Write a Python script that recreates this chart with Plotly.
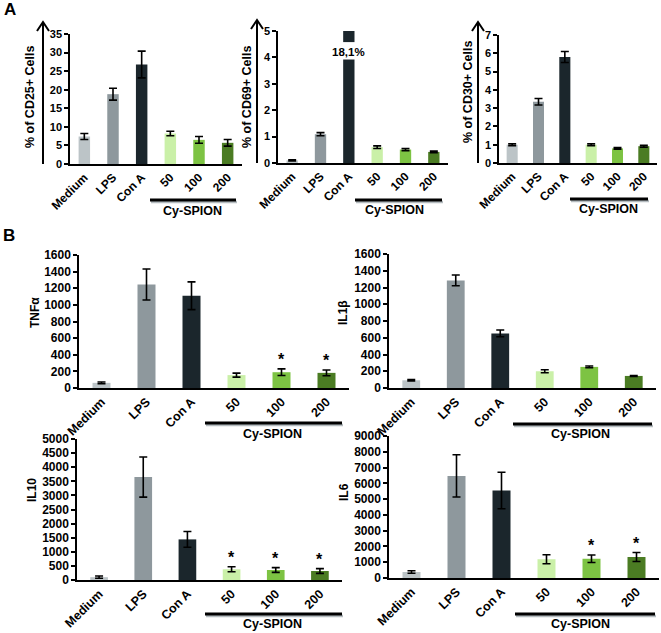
import plotly.graph_objects as go

W, H = 661, 633

categories = ["Medium", "LPS", "Con A", "50", "100", "200"]
colors = ["#bcc4c7", "#8e989d", "#1b262c", "#caf0a8", "#7dc343", "#4b7c23"]

cd25 = [7.4, 18.8, 26.8, 8.2, 6.5, 5.7]
cd25_err = [0.8, 1.6, 3.6, 0.6, 0.9, 0.9]
cd69 = [0.1, 1.09, 18.1, 0.6, 0.51, 0.42]
cd69_err = [0.02, 0.06, 0, 0.05, 0.04, 0.03]
cd30 = [1.0, 3.35, 5.8, 1.0, 0.8, 0.92]
cd30_err = [0.05, 0.18, 0.3, 0.05, 0.04, 0.05]
tnf = [62, 1245, 1110, 155, 190, 182]
tnf_err = [10, 187, 167, 24, 40, 35]
il1b = [92, 1285, 652, 200, 252, 144]
il1b_err = [8, 64, 40, 18, 10, 6]
il10 = [100, 3650, 1440, 380, 355, 320]
il10_err = [40, 710, 280, 90, 85, 85]
il6 = [380, 6470, 5545, 1190, 1220, 1330]
il6_err = [80, 1340, 1160, 285, 240, 285]
tnf_sig = ["", "", "", "", "*", "*"]
il1b_sig = ["", "", "", "", "", ""]
il10_sig = ["", "", "", "*", "*", "*"]
il6_sig = ["", "", "", "", "*", "*"]

FONT = "Liberation Sans"


def xd(a, b):
    return [a / W, b / W]


def yd(bottom, top):
    return [1 - bottom / H, 1 - top / H]


def px(x):
    return x / W


def py(y):
    return 1 - y / H


panels = [
    dict(v=cd25, e=cd25_err, s=None, ymax=35, dt=5, xd=(70, 242), yd=(164, 34),
         title="% of CD25+ Cells", tpos=(30, 97), ts=11, xs=12, bw=0.4),
    dict(v=cd69, e=cd69_err, s=None, ymax=5, dt=1, xd=(278, 448), yd=(163, 31),
         title="% of CD69+ Cells", tpos=(247, 97), ts=11, xs=12, bw=0.4),
    dict(v=cd30, e=cd30_err, s=None, ymax=7, dt=1, xd=(499, 657), yd=(163, 35),
         title="% of CD30+ Cells", tpos=(468, 92), ts=11, xs=12, bw=0.42),
    dict(v=tnf, e=tnf_err, s=tnf_sig, ymax=1600, dt=200, xd=(79, 349), yd=(388, 255),
         title="TNFα", tpos=(35, 313), ts=12, xs=12.5, bw=0.4),
    dict(v=il1b, e=il1b_err, s=il1b_sig, ymax=1600, dt=200, xd=(389, 656), yd=(388, 254),
         title="IL1β", tpos=(343, 313), ts=12, xs=12.5, bw=0.4),
    dict(v=il10, e=il10_err, s=il10_sig, ymax=5000, dt=500, xd=(77, 342), yd=(580, 439),
         title="IL10", tpos=(32, 490), ts=12, xs=12.5, bw=0.4),
    dict(v=il6, e=il6_err, s=il6_sig, ymax=9000, dt=1000, xd=(389, 659), yd=(578, 436),
         title="IL6", tpos=(344, 492), ts=12, xs=12.5, bw=0.4),
]

fig = go.Figure()
annotations = []
shapes = []
layout = {}

for i, p in enumerate(panels, start=1):
    xa = "x" if i == 1 else f"x{i}"
    ya = "y" if i == 1 else f"y{i}"
    fig.add_trace(go.Bar(
        x=categories, y=p["v"], xaxis=xa, yaxis=ya,
        marker=dict(color=colors, line=dict(width=0)),
        width=p["bw"],
        error_y=dict(type="data", array=p["e"], color="black", thickness=1.6, width=4),
        showlegend=False, hoverinfo="skip",
    ))
    kx = "xaxis" if i == 1 else f"xaxis{i}"
    ky = "yaxis" if i == 1 else f"yaxis{i}"
    layout[kx] = dict(
        domain=xd(*p["xd"]), anchor=ya, type="category", range=[-0.5, 5.5],
        showline=True, linecolor="black", linewidth=1.5, ticks="", tickangle=-45,
        showgrid=False, zeroline=False, fixedrange=True, automargin=False,
        tickfont=dict(family=FONT, size=p["xs"], color="black", weight="bold"),
    )
    layout[ky] = dict(
        domain=yd(*p["yd"]), anchor=xa, range=[0, p["ymax"]], dtick=p["dt"],
        showline=True, linecolor="black", linewidth=1.5, ticks="outside", ticklen=4,
        tickcolor="black", tickwidth=1.5, showgrid=False, zeroline=False,
        automargin=False, fixedrange=True,
        tickfont=dict(family=FONT, size=p["ts"], color="black", weight="bold"),
    )
    annotations.append(dict(
        xref="paper", yref="paper", x=px(p["tpos"][0]), y=py(p["tpos"][1]),
        xanchor="center", yanchor="middle",
        text="<b>" + p["title"] + "</b>", textangle=-90, showarrow=False,
        font=dict(family=FONT, size=12.5 if i <= 3 else 12, color="black"),
    ))
    if p["s"]:
        for k, (v, e, s) in enumerate(zip(p["v"], p["e"], p["s"])):
            if s:
                annotations.append(dict(
                    xref=xa, yref=ya, x=k, y=v + e, text="<b>" + s + "</b>",
                    showarrow=False, xanchor="center", yanchor="middle", yshift=9,
                    font=dict(family=FONT, size=16, color="black"),
                ))

# broken Con A bar in CD69 panel
shapes.append(dict(type="rect", xref="x2", yref="y2", x0=1.7, x1=2.3, y0=3.92, y1=4.58,
                   fillcolor="white", line=dict(width=0), layer="above"))
annotations.append(dict(xref="x2", yref="y2", x=2, y=4.22, text="<b>18,1%</b>",
                        showarrow=False, xanchor="center", yanchor="middle",
                        font=dict(family=FONT, size=11.5, color="black")))

# y-axis arrows in panel A
for ax_x, tip, base in [(43, 22, 164), (257, 20, 163), (478, 22, 163)]:
    shapes.append(dict(type="line", xref="paper", yref="paper",
                       x0=px(ax_x), x1=px(ax_x), y0=py(base), y1=py(tip + 1),
                       line=dict(color="black", width=2)))
    shapes.append(dict(type="path", xref="paper", yref="paper",
                       path=f"M {px(ax_x - 6)},{py(tip + 9)} L {px(ax_x)},{py(tip)} L {px(ax_x + 6)},{py(tip + 9)}",
                       line=dict(color="black", width=2)))

# Cy-SPION group bars
groups = [
    (150, 236, 200, 192, 211),
    (355, 442, 200, 395, 210),
    (570, 648, 199, 608, 209),
    (205, 342, 423, 272, 434),
    (513, 652, 424, 580, 434),
    (205, 342, 614, 272, 624),
    (515, 655, 614, 580, 624),
]
for x0, x1, yl, tx, ty in groups:
    shapes.append(dict(type="line", xref="paper", yref="paper",
                       x0=px(x0 + 1), x1=px(x1 + 1), y0=py(yl + 2), y1=py(yl + 2),
                       line=dict(color="#b5bcc0", width=2.5)))
    shapes.append(dict(type="line", xref="paper", yref="paper",
                       x0=px(x0), x1=px(x1), y0=py(yl), y1=py(yl),
                       line=dict(color="black", width=3)))
    annotations.append(dict(xref="paper", yref="paper", x=px(tx), y=py(ty),
                            text="<b>Cy-SPION</b>", showarrow=False,
                            xanchor="center", yanchor="middle",
                            font=dict(family=FONT, size=12.5, color="black")))

# panel letters
annotations.append(dict(xref="paper", yref="paper", x=px(10), y=py(10), text="<b>A</b>",
                        xanchor="center", yanchor="middle",
                        showarrow=False, font=dict(family=FONT, size=17, color="black")))
annotations.append(dict(xref="paper", yref="paper", x=px(9), y=py(235), text="<b>B</b>",
                        xanchor="center", yanchor="middle",
                        showarrow=False, font=dict(family=FONT, size=17, color="black")))

fig.update_layout(
    width=W, height=H, margin=dict(l=0, r=0, t=0, b=0, autoexpand=False),
    paper_bgcolor="white", plot_bgcolor="white",
    annotations=annotations, shapes=shapes, bargap=0.6,
    **layout,
)

fig.write_html("out.html", config={"displayModeBar": False},
               post_script="document.body.style.margin='0px';")
